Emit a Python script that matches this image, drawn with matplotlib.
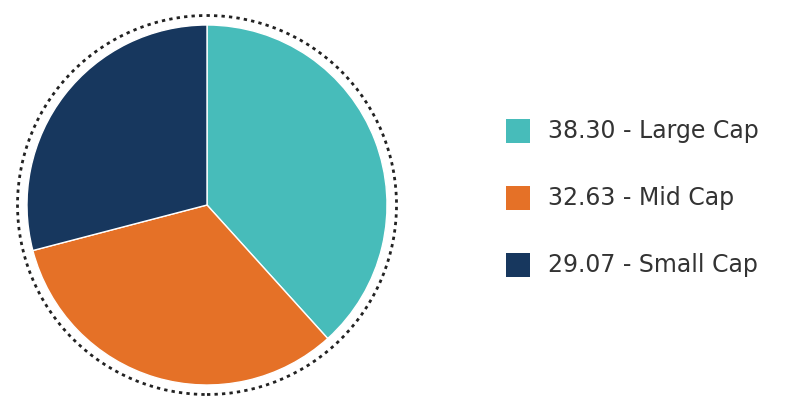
import matplotlib
matplotlib.use('Agg')
import matplotlib.pyplot as plt
from matplotlib.patches import Circle, Rectangle

labels = ["Large Cap", "Mid Cap", "Small Cap"]
values = [38.30, 32.63, 29.07]
colors = ["#47BCBA", "#E57127", "#17375E"]

W, H = 799, 408
fig = plt.figure(figsize=(W / 100, H / 100), dpi=100)

# pie area, in pixel units
ax = fig.add_axes([0, 0, H / W, 1])
ax.set_xlim(0, H)
ax.set_ylim(0, H)
ax.set_aspect('equal')
ax.axis('off')

cx, cy = 207, H - 205
ax.pie(values, colors=colors, startangle=90, counterclock=False,
       center=(cx, cy), radius=180, frame=True,
       wedgeprops=dict(edgecolor='white', linewidth=1))
ax.set_xlim(0, H)
ax.set_ylim(0, H)
ax.axis('off')
ax.add_patch(Circle((cx, cy), 189.5, fill=False, edgecolor='#222222',
                    linewidth=2, linestyle=(0, (1.2, 1.5))))

# legend
for i, (lab, val, col) in enumerate(zip(labels, values, colors)):
    yc = 131 + i * 67
    fig.patches.append(Rectangle((506 / W, 1 - (yc + 12) / H), 24 / W, 24 / H,
                                 transform=fig.transFigure, facecolor=col,
                                 edgecolor='none'))
    fig.text(548 / W, 1 - yc / H, f"{val:.2f} - {lab}", fontsize=17,
             va='center', ha='left', color='#333333')

fig.savefig('out.png', dpi=100)
